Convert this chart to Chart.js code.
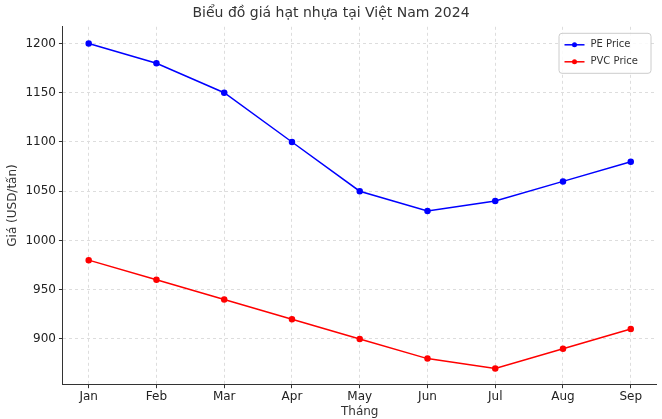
<!DOCTYPE html>
<html><head><meta charset="utf-8">
<script src="https://cdn.jsdelivr.net/npm/chart.js@4"></script>
<style>body{margin:0;background:#fff}#w{width:662px;height:419px}</style>
</head><body><div id="w"><canvas id="c"></canvas></div>
<script>
const months=["Jan","Feb","Mar","Apr","May","Jun","Jul","Aug","Sep"];
const pePrice=[1200,1180,1150,1100,1050,1030,1040,1060,1080];
const pvcPrice=[980,960,940,920,900,880,870,890,910];
const yTicks=[900,950,1000,1050,1100,1150,1200];
const F="DejaVu Sans";
const legendBox={id:'lb',afterDraw(ch){
 const c=ch.ctx,a=ch.chartArea;const w=92,h=40,x=a.right-w-6,y=a.top+6;
 c.save();c.fillStyle='rgba(255,255,255,0.85)';c.strokeStyle='#ccc';c.lineWidth=1;
 c.beginPath();c.roundRect(x+.5,y+.5,w,h,3);c.fill();c.stroke();
 ch.data.datasets.forEach((d,i)=>{const yy=y+12+i*17;
  c.strokeStyle=d.borderColor;c.lineWidth=1.5;c.beginPath();c.moveTo(x+6,yy);c.lineTo(x+26,yy);c.stroke();
  c.fillStyle=d.borderColor;c.beginPath();c.arc(x+16,yy,2.5,0,7);c.fill();
  c.fillStyle='#333';c.font='10px '+F;c.textBaseline='middle';c.fillText(d.label,x+32,yy);});
 c.restore();}};
new Chart(document.getElementById('c'),{type:'line',
 data:{datasets:[
  {label:'PE Price',data:pePrice.map((v,i)=>({x:i,y:v})),borderColor:'#0000ff',backgroundColor:'#0000ff',borderWidth:1.5,pointRadius:2.5,tension:0},
  {label:'PVC Price',data:pvcPrice.map((v,i)=>({x:i,y:v})),borderColor:'#ff0000',backgroundColor:'#ff0000',borderWidth:1.5,pointRadius:2.5,tension:0}]},
 options:{responsive:true,maintainAspectRatio:false,animation:false,
  layout:{padding:{left:2,right:2,top:0,bottom:0}},
  plugins:{legend:{display:false},tooltip:{enabled:false},
   title:{display:true,text:'Biểu đồ giá hạt nhựa tại Việt Nam 2024',color:'#333',font:{family:F,size:14,weight:'normal'},padding:{top:5,bottom:5}}},
  scales:{
   x:{type:'linear',min:-0.38,max:8.38,
    afterBuildTicks:s=>{s.ticks=months.map((m,i)=>({value:i}));},
    ticks:{callback:v=>months[v],color:'#222',font:{family:F,size:12},maxRotation:0,padding:1},
    grid:{color:'#ddd',tickColor:'#333',tickLength:4},
    border:{color:'#333',dash:[3,3]},
    title:{display:true,text:'Tháng',color:'#333',font:{family:F,size:12},padding:{top:0,bottom:0}}},
   y:{min:854,max:1217,
    afterBuildTicks:s=>{s.ticks=yTicks.map(v=>({value:v}));},
    ticks:{callback:v=>String(v),color:'#222',font:{family:F,size:12}},
    grid:{color:'#ddd',tickColor:'#333',tickLength:4},
    border:{color:'#333',dash:[3,3]},
    title:{display:true,text:'Giá (USD/tấn)',color:'#333',font:{family:F,size:12},padding:{bottom:2}}}}},
 plugins:[legendBox]});
</script></body></html>
